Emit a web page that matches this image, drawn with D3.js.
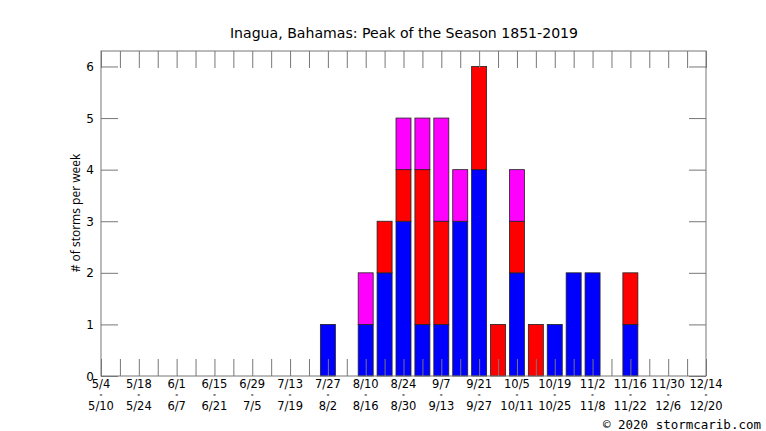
<!DOCTYPE html>
<html>
<head>
<meta charset="utf-8">
<script src="https://cdn.jsdelivr.net/npm/d3@7"></script>
<style>
  body { margin: 0; background: #fff; }
  text { font-family: "DejaVu Sans", sans-serif; fill: #000; }
</style>
</head>
<body>
<div id="chart"></div>
<script>
// Week start dates, 5/4 .. 12/14
const weeks = ["5/4","5/11","5/18","5/25","6/1","6/8","6/15","6/22","6/29","7/6","7/13","7/20",
  "7/27","8/3","8/10","8/17","8/24","8/31","9/7","9/14","9/21","9/28","10/5","10/12","10/19",
  "10/26","11/2","11/9","11/16","11/23","11/30","12/7","12/14"];

// storms per week, stacked bottom to top
const blue    = [0,0,0,0,0,0,0,0,0,0,0,0,1,0,1,2,3,1,1,3,4,0,2,0,1,2,2,0,1,0,0,0,0];
const red     = [0,0,0,0,0,0,0,0,0,0,0,0,0,0,0,1,1,3,2,0,2,1,1,1,0,0,0,0,1,0,0,0,0];
const magenta = [0,0,0,0,0,0,0,0,0,0,0,0,0,0,1,0,1,1,2,1,0,0,1,0,0,0,0,0,0,0,0,0,0];

// labelled ticks (every 2nd week)
const labelStart = ["5/4","5/18","6/1","6/15","6/29","7/13","7/27","8/10","8/24","9/7","9/21",
  "10/5","10/19","11/2","11/16","11/30","12/14"];
const labelEnd = ["5/10","5/24","6/7","6/21","7/5","7/19","8/2","8/16","8/30","9/13","9/27",
  "10/11","10/25","11/8","11/22","12/6","12/20"];
const yTicks = [0,1,2,3,4,5,6];

const width = 766, height = 431;
const plotLeft = 101, plotRight = 706, plotTop = 51, plotBottom = 376;

const svg = d3.select("#chart").append("svg")
    .attr("width", width)
    .attr("height", height);

const x = d3.scaleLinear().domain([0, weeks.length - 1]).range([plotLeft, plotRight]);
const y = d3.scaleLinear().domain([0, 6.3]).range([plotBottom, plotTop]);
const barW = 15;

// stack the three series
const rows = weeks.map((w, i) => ({ i: i, blue: blue[i], red: red[i], magenta: magenta[i] }));
const keys = ["blue", "red", "magenta"];
const colors = { blue: "#0000ff", red: "#ff0000", magenta: "#ff00ff" };
const stacked = d3.stack().keys(keys)(rows);

svg.append("g")
  .selectAll("g")
  .data(stacked)
  .enter().append("g")
    .attr("fill", d => colors[d.key])
  .selectAll("rect")
  .data(d => d.filter(s => s[1] > s[0]))
  .enter().append("rect")
    .attr("x", d => x(d.data.i) - barW / 2)
    .attr("y", d => y(d[1]))
    .attr("width", barW)
    .attr("height", d => y(d[0]) - y(d[1]))
    .attr("stroke", "#222")
    .attr("stroke-width", 0.8);

// inward ticks on all four sides
const tickLen = 17;
const weekIdx = d3.range(weeks.length);
svg.append("g")
    .attr("transform", "translate(0," + plotBottom + ")")
    .call(d3.axisTop(x).tickValues(weekIdx).tickSize(tickLen).tickFormat(""))
    .call(g => g.select(".domain").remove());
svg.append("g")
    .attr("transform", "translate(0," + plotTop + ")")
    .call(d3.axisBottom(x).tickValues(weekIdx).tickSize(tickLen).tickFormat(""))
    .call(g => g.select(".domain").remove());
svg.append("g")
    .attr("transform", "translate(" + plotLeft + ",0)")
    .call(d3.axisRight(y).tickValues(yTicks).tickSize(tickLen).tickFormat(""))
    .call(g => g.select(".domain").remove());
svg.append("g")
    .attr("transform", "translate(" + plotRight + ",0)")
    .call(d3.axisLeft(y).tickValues(yTicks).tickSize(tickLen).tickFormat(""))
    .call(g => g.select(".domain").remove());
svg.selectAll(".tick line").attr("stroke", "#777").attr("stroke-width", 1);

// frame
svg.append("rect")
    .attr("x", plotLeft).attr("y", plotTop)
    .attr("width", plotRight - plotLeft).attr("height", plotBottom - plotTop)
    .attr("fill", "none").attr("stroke", "#777").attr("stroke-width", 1);

// y labels
svg.append("g").selectAll("text")
  .data(yTicks)
  .enter().append("text")
    .attr("x", plotLeft - 7)
    .attr("y", d => y(d) + 4.5)
    .attr("text-anchor", "end")
    .attr("font-size", 12)
    .text(d => d);

// x labels: start, small dash, end
const xl = svg.append("g").selectAll("g")
  .data(labelStart)
  .enter().append("g")
    .attr("transform", (d, i) => "translate(" + x(i * 2) + ",0)");
xl.append("text").attr("y", 387.5).attr("text-anchor", "middle").attr("font-size", 11.5).text(d => d);
xl.append("text").attr("y", 397.3).attr("text-anchor", "middle").attr("font-size", 7)
    .style("font-weight", "bold").text("-");
xl.append("text").attr("y", 410).attr("text-anchor", "middle").attr("font-size", 11.5)
    .text((d, i) => labelEnd[i]);

// title
svg.append("text")
    .attr("x", 404).attr("y", 38)
    .attr("text-anchor", "middle")
    .attr("font-size", 14.1)
    .text("Inagua, Bahamas: Peak of the Season 1851-2019");

// y axis title
svg.append("text")
    .attr("transform", "translate(80,213) rotate(-90)")
    .attr("text-anchor", "middle")
    .attr("font-size", 12)
    .style("font-family", "'Open Sans', sans-serif")
    .text("# of storms per week");

// credit
svg.append("text")
    .attr("x", 761).attr("y", 429)
    .attr("text-anchor", "end")
    .attr("font-size", 12.5)
    .style("font-family", "'DejaVu Sans Mono', monospace")
    .text("© 2020 stormcarib.com");
</script>
</body>
</html>
